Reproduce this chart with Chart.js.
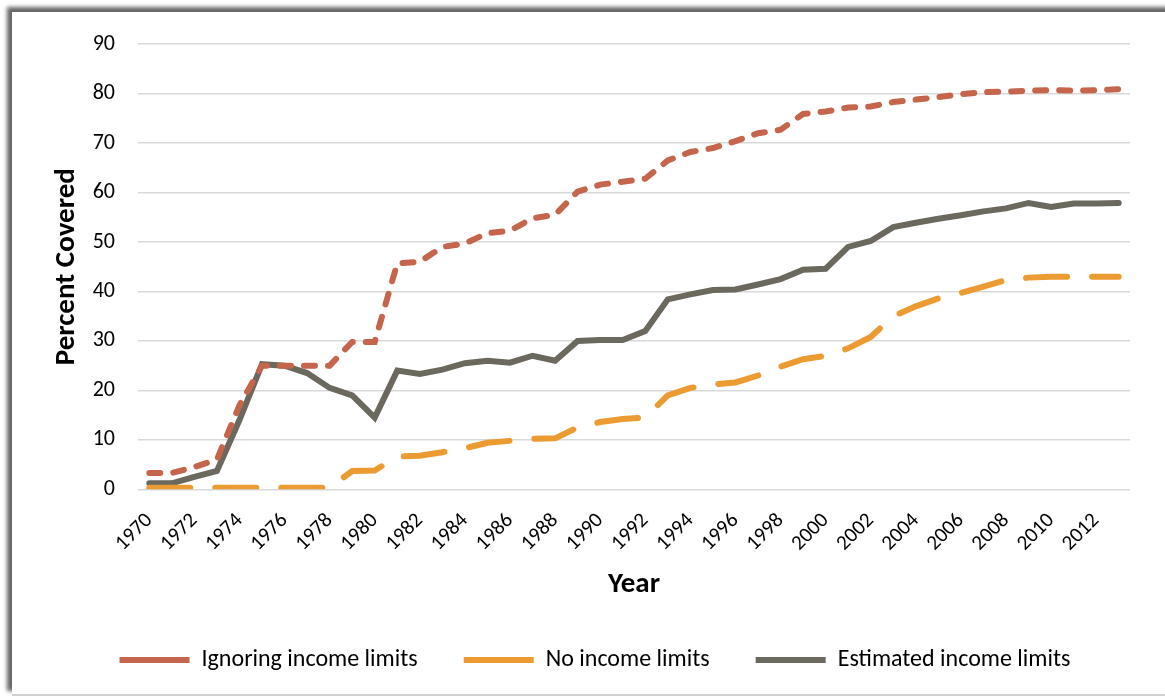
<!DOCTYPE html>
<html>
<head>
<meta charset="utf-8">
<script src="https://cdn.jsdelivr.net/npm/chart.js@4"></script>
<style>
  html, body { margin: 0; padding: 0; background: #fff; }
  body { width: 1165px; height: 698px; overflow: hidden; position: relative; }
  .frame {
    position: absolute; left: 12px; top: 12px; width: 1170px; height: 682px;
    background: #fff;
    box-shadow: -5px -5px 4px rgba(0,0,0,0.6);
    border-bottom: 2px solid #d0d0d0;
  }
  canvas { position: absolute; left: 0; top: -4px; }
</style>
</head>
<body>
<div class="frame">
  <canvas id="chart" width="1153" height="686"></canvas>
</div>
<script>
const years = [];
for (let y = 1970; y <= 2013; y++) years.push(String(y));

const ignoringLimits = [3.3, 3.3, 4.5, 6, 17, 25, 25, 25, 25, 29.8, 29.8, 45.7, 46, 49, 49.7, 51.8, 52.3, 54.8, 55.5, 60.2,
  61.6, 62.2, 62.8, 66.5, 68.2, 69, 70.4, 72, 72.7, 75.9, 76.4, 77.2, 77.4, 78.3, 78.8, 79.3, 79.9, 80.3, 80.4, 80.6,
  80.7, 80.6, 80.7, 80.9];
const noLimits = [0.3, 0.3, 0.3, 0.3, 0.3, 0.3, 0.3, 0.3, 0.3, 3.7, 3.8, 6.6, 6.8, 7.5, 8.3, 9.4, 9.8, 10.2, 10.3, 12.5,
  13.6, 14.2, 14.5, 19, 20.5, 21.2, 21.6, 23, 24.8, 26.3, 27, 28.5, 30.8, 35, 37, 38.6, 39.7, 41, 42.3, 42.8,
  43, 43, 43, 43];
const estimatedLimits = [1.2, 1.2, 2.5, 3.7, 14, 25.3, 25, 23.5, 20.5, 19, 14.5, 24, 23.3, 24.2, 25.5, 26, 25.6, 27, 26, 30,
  30.2, 30.2, 32, 38.4, 39.4, 40.3, 40.4, 41.4, 42.5, 44.4, 44.6, 49, 50.2, 53, 53.9, 54.7, 55.4, 56.2, 56.8, 57.9,
  57.1, 57.8, 57.8, 57.9];
const yTicks = [0, 10, 20, 30, 40, 50, 60, 70, 80, 90];

const font = "Carlito, Lato, 'Liberation Sans', sans-serif";

new Chart(document.getElementById("chart").getContext("2d"), {
  type: "line",
  data: {
    labels: years,
    datasets: [
      {
        label: "Ignoring income limits",
        data: ignoringLimits,
        borderColor: "#C5654B",
        backgroundColor: "#C5654B",
        borderWidth: 6,
        borderDash: [11, 13],
        borderCapStyle: "round",
        pointRadius: 0,
      },
      {
        label: "No income limits",
        data: noLimits,
        borderColor: "#EC9B32",
        backgroundColor: "#EC9B32",
        borderWidth: 6,
        borderDash: [41, 25],
        borderCapStyle: "round",
        pointRadius: 0,
      },
      {
        label: "Estimated income limits",
        data: estimatedLimits,
        borderColor: "#6B685E",
        backgroundColor: "#6B685E",
        borderWidth: 6,
        borderCapStyle: "round",
        pointRadius: 0,
      },
    ],
  },
  options: {
    responsive: false,
    animation: false,
    layout: { padding: { left: 48, right: 35, top: 7, bottom: 12 } },
    plugins: {
      tooltip: { enabled: false },
      legend: {
        position: "bottom",
        labels: {
          usePointStyle: true,
          pointStyle: "line",
          pointStyleWidth: 70,
          color: "#000",
          padding: 46,
          font: { family: font, size: 24 },
        },
      },
    },
    scales: {
      x: {
        offset: true,
        grid: { display: false },
        border: { display: false },
        ticks: {
          autoSkip: false,
          maxRotation: 45,
          minRotation: 45,
          padding: 11,
          color: "#000",
          font: { family: font, size: 21 },
          callback: function (v, i) { return i % 2 === 0 ? years[i] : ""; },
        },
        title: {
          display: true,
          text: "Year",
          color: "#000",
          font: { family: font, size: 29, weight: "bold" },
          padding: { top: 0, bottom: 0 },
        },
      },
      y: {
        min: 0,
        max: 90,
        afterBuildTicks: function (axis) { axis.ticks = yTicks.map(v => ({ value: v })); },
        afterFit: function (axis) { axis.width = 78; },
        grid: { color: "#d9d9d9", lineWidth: 1.5, drawTicks: false },
        border: { display: false },
        ticks: {
          color: "#000",
          padding: 23,
          font: { family: font, size: 22 },
        },
        title: {
          display: true,
          text: "Percent Covered",
          color: "#000",
          font: { family: font, size: 29, weight: "bold" },
          padding: { top: -11, bottom: 6 },
        },
      },
    },
  },
});
</script>
</body>
</html>
